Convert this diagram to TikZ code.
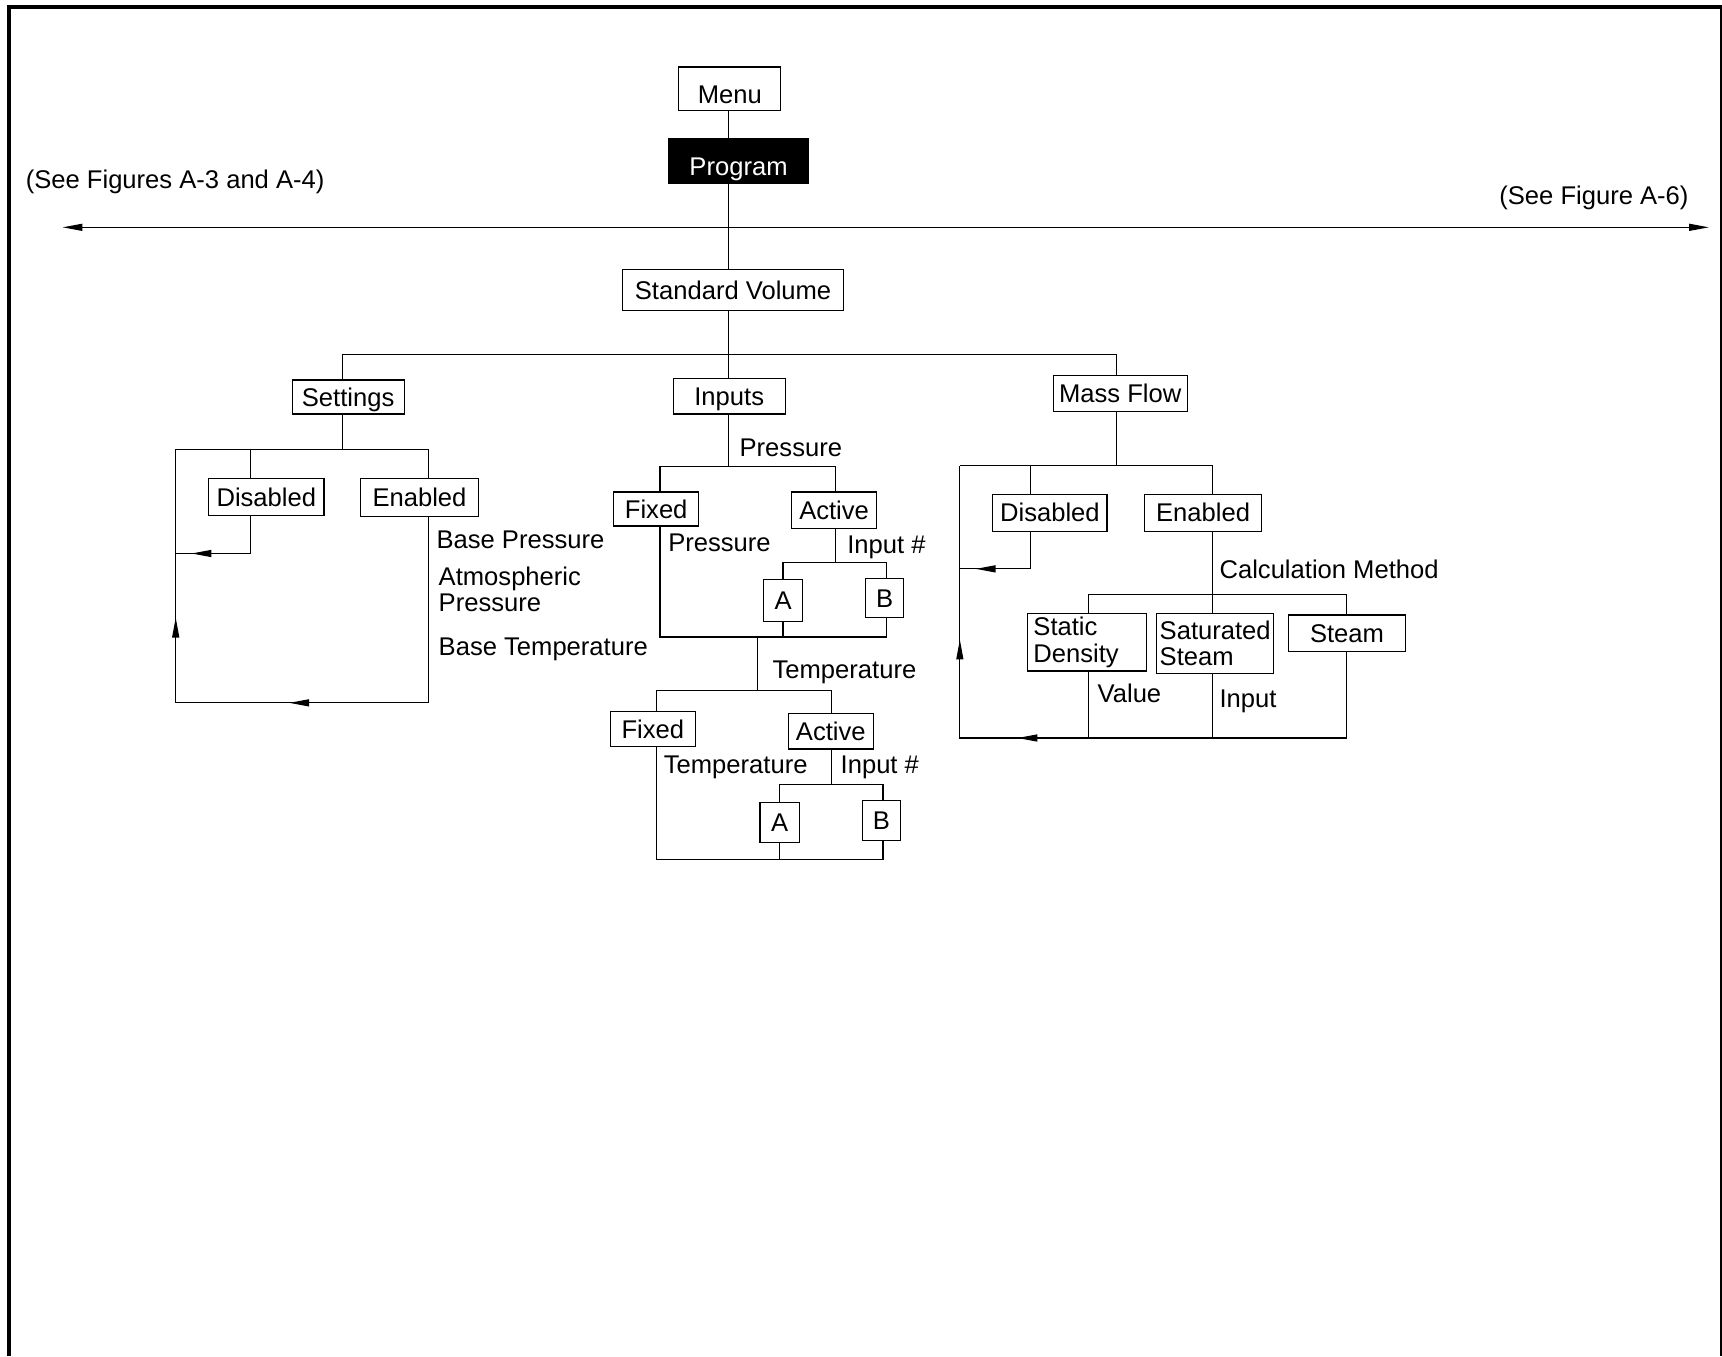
\documentclass[tikz,border=0pt]{standalone}
\usepackage{fontspec}
\setmainfont{Liberation Sans}
\usetikzlibrary{arrows.meta,decorations.markings}

\tikzset{
  box/.style={draw, line width=0.5pt, inner sep=0pt, text height=8.3pt, text depth=0pt},
  twoline/.style={draw, line width=0.5pt, inner xsep=2.5pt, inner ysep=0pt, align=left},
  lbl/.style={anchor=base west, inner sep=0pt},
  flow/.style={postaction={decorate, decoration={markings, mark=at position #1 with {\arrow{>}}}}},
}

\begin{document}
\begin{tikzpicture}[x=0.5pt, y=-0.5pt, font=\fontsize{11.65pt}{12pt}\selectfont,
    line width=0.5pt, >={Triangle[length=9pt,width=3.2pt]}]
  \useasboundingbox (0,0) rectangle (1568,1235);
  % page frame
  \draw[line width=1.8pt] (8,1235) -- (8,6) -- (1568,6);
  \draw[line width=0.8pt] (1567,6) -- (1567,1235);

  % menu, program and the side branches
  \node[box, minimum width=46.5pt, minimum height=20pt, text height=13.3pt] (menu) at (664.5,81) {Menu};
  \node[box, fill=black, text=white, minimum width=63.5pt, minimum height=20.5pt, text height=13.3pt] (program) at (672.5,146.5) {Program};
  \node[box, minimum width=100.5pt, minimum height=19pt] (stdvol) at (667.5,264) {Standard Volume};
  \node[lbl] (seeleft) at (23,172) {(See Figures A-3 and A-4)};
  \node[lbl, anchor=base east] (seeright) at (1538,186) {(See Figure A-6)};
  \coordinate (spine) at (663,207);
  \coordinate (west) at (57,207);
  \coordinate (east) at (1556,207);
  \draw (menu.south -| spine) -- (program.north -| spine);
  \draw (program.south -| spine) -- (stdvol.north -| spine);
  \draw[<->] (west) -- (east);

  % first level
  \coordinate (top) at (663,323);
  \coordinate (sx) at (312,323);
  \coordinate (mx) at (1017,323);
  \node[box, minimum width=51pt, minimum height=15.5pt] (settings) at (317,361.5) {Settings};
  \node[box, minimum width=51pt, minimum height=16pt] (inputs) at (664,361) {Inputs};
  \node[box, minimum width=61pt, minimum height=16.5pt] (massflow) at (1020,358.5) {Mass Flow};
  \draw (stdvol.south -| spine) -- (top);
  \draw (settings.north -| sx) |- (mx) -- (massflow.north -| mx);
  \draw (top) -- (inputs.north -| top);

  % settings
  \coordinate (sl) at (160,409);
  \coordinate (sd) at (228,409);
  \coordinate (sr) at (390,409);
  \coordinate (sret) at (160,504);
  \coordinate (sbot) at (160,640);
  \node[box, minimum width=52.5pt, minimum height=16.5pt] (sdis) at (242.5,452.5) {Disabled};
  \node[box, minimum width=54pt, minimum height=17pt] (sen) at (382,453) {Enabled};
  \draw (settings.south -| sx) -- (sx |- sl);
  \draw (sl) -- (sr) -- (sen.north -| sr);
  \draw (sd) -- (sdis.north -| sd);
  \draw[flow=44pt] (sdis.south -| sd) |- (sret);
  \draw[flow=148pt, flow=238.5pt] (sen.south -| sr) |- (sbot) -- (sl);
  \node[lbl] (bpress) at (397,499) {Base Pressure};
  \node[lbl, align=left] (atmos) at (399,557) {Atmospheric\\Pressure};
  \node[lbl] (btemp) at (399,597) {Base Temperature};

  % inputs: pressure
  \coordinate (ip) at (663,425);
  \coordinate (ifx) at (601,425);
  \coordinate (iac) at (761,425);
  \node[box, minimum width=38.5pt, minimum height=15.5pt] (fix1) at (597.5,463.5) {Fixed};
  \node[box, minimum width=38.5pt, minimum height=16.5pt] (act1) at (759.5,464.5) {Active};
  \draw (inputs.south -| ip) -- (ip);
  \draw (fix1.north -| ifx) |- (iac) -- (act1.north -| iac);
  \node[lbl] (lpress) at (673,416) {Pressure};
  \node[lbl] (lfixp) at (608,502) {Pressure};
  \node[lbl] (linp1) at (771,504) {Input \#};
  \coordinate (a1x) at (713,512);
  \coordinate (b1x) at (807,512);
  \coordinate (pbot) at (807,580);
  \node[box, minimum width=18pt, minimum height=19pt] (a1) at (713,547) {A};
  \node[box, minimum width=17.5pt, minimum height=17.5pt] (b1) at (805.5,544.5) {B};
  \draw (act1.south -| iac) -- (iac |- a1x);
  \draw (a1.north -| a1x) |- (b1x) -- (b1.north -| b1x);
  \draw (fix1.south -| ifx) |- (pbot) -- (b1.south -| b1x);
  \draw (a1.south -| a1x) -- (a1x |- pbot);

  % inputs: temperature
  \coordinate (tp) at (690,629);
  \coordinate (tfx) at (598,629);
  \coordinate (tac) at (757,629);
  \draw (tp |- pbot) -- (tp);
  \node[lbl] (ltemp) at (703,618) {Temperature};
  \node[box, minimum width=38.5pt, minimum height=16pt] (fix2) at (594.5,664) {Fixed};
  \node[box, minimum width=38.5pt, minimum height=16pt] (act2) at (756.5,666) {Active};
  \draw (fix2.north -| tfx) |- (tac) -- (act2.north -| tac);
  \node[lbl] (lfixt) at (604,704) {Temperature};
  \node[lbl] (linp2) at (765,704) {Input \#};
  \coordinate (a2x) at (710,714);
  \coordinate (b2x) at (804,714);
  \coordinate (tbot) at (804,783);
  \node[box, minimum width=18pt, minimum height=18pt] (a2) at (710,749) {A};
  \node[box, minimum width=17.5pt, minimum height=18pt] (b2) at (802.5,747) {B};
  \draw (act2.south -| tac) -- (tac |- a2x);
  \draw (a2.north -| a2x) |- (b2x) -- (b2.north -| b2x);
  \draw (fix2.south -| tfx) |- (tbot) -- (b2.south -| b2x);
  \draw (a2.south -| a2x) -- (a2x |- tbot);

  % mass flow
  \coordinate (mfx) at (1017,424);
  \coordinate (ml) at (874,424);
  \coordinate (mdx) at (938,424);
  \coordinate (mex) at (1104,424);
  \coordinate (mret) at (874,518);
  \coordinate (mbot) at (874,672);
  \node[box, minimum width=52pt, minimum height=17pt] (mdis) at (956,467) {Disabled};
  \node[box, minimum width=53.5pt, minimum height=17pt] (men) at (1095.5,467) {Enabled};
  \draw (massflow.south -| mfx) -- (mfx);
  \draw (ml) -- (mex) -- (men.north -| mex);
  \draw (mdx) -- (mdis.north -| mdx);
  \draw[flow=41.5pt] (mdis.south -| mdx) |- (mret);
  \node[lbl] (lcalc) at (1110,527) {Calculation Method};
  \coordinate (cx1) at (991,541);
  \coordinate (cx3) at (1226,541);
  \node[twoline, text width=49pt, minimum height=26pt] (stat) at (990,585) {Static\\Density};
  \node[twoline, text width=50.5pt, inner xsep=1.5pt, minimum height=27pt] (sat) at (1106.5,586) {Saturated\\Steam};
  \node[box, minimum width=53.5pt, minimum height=16.5pt] (steam) at (1226.5,576.5) {Steam};
  \draw (men.south -| mex) -- (sat.north -| mex);
  \draw (stat.north -| cx1) |- (cx3) -- (steam.north -| cx3);
  \draw[flow=189pt, flow=260pt] (steam.south -| cx3) |- (mbot) -- (ml);
  \draw (stat.south -| cx1) -- (cx1 |- mbot);
  \draw (sat.south -| mex) -- (mex |- mbot);
  \node[lbl] (lval) at (999,640) {Value};
  \node[lbl] (linp) at (1110,644) {Input};
\end{tikzpicture}
\end{document}
